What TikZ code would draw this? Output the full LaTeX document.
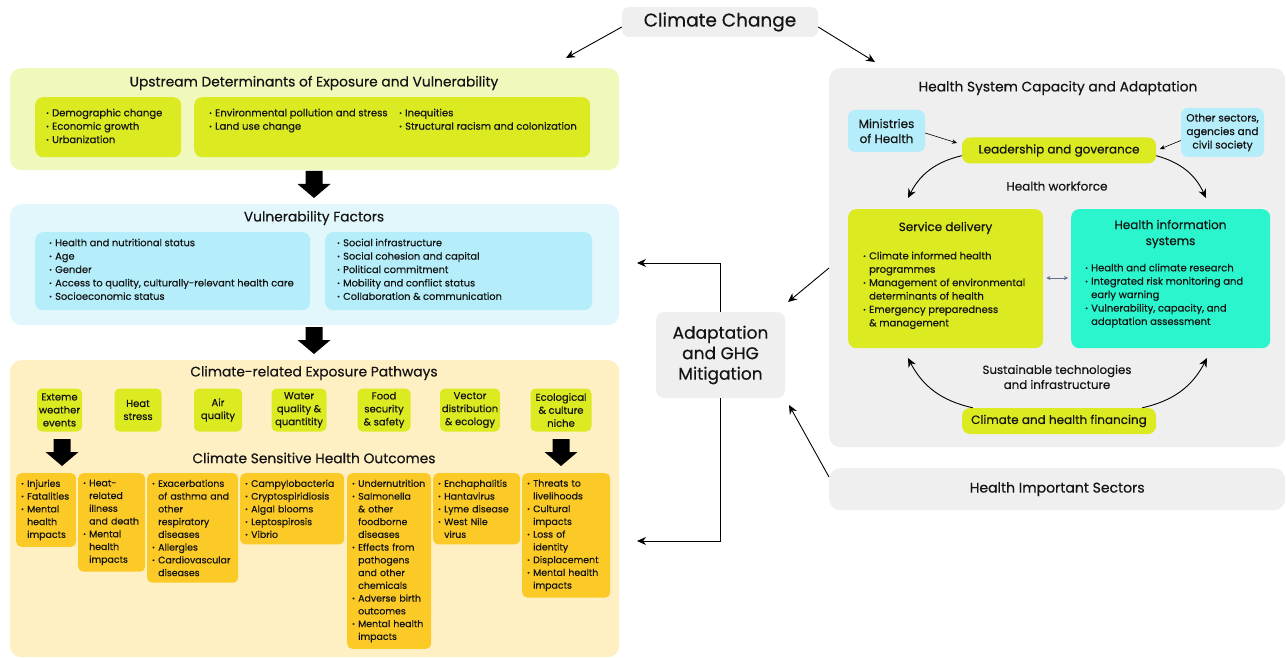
\documentclass[tikz,border=0pt]{standalone}
\usepackage{fontspec}
\setmainfont{Poppins}[FakeBold=0.4]
\usetikzlibrary{arrows.meta,positioning}

\definecolor{lime}{RGB}{220,234,34}
\definecolor{limebg}{RGB}{241,248,188}
\definecolor{cyanbg}{RGB}{226,247,252}
\definecolor{cyanbox}{RGB}{181,238,250}
\definecolor{sandbg}{RGB}{255,240,196}
\definecolor{amber}{RGB}{252,202,38}
\definecolor{greybg}{RGB}{239,239,239}
\definecolor{aqua}{RGB}{42,245,205}
\definecolor{ink}{RGB}{20,20,20}
\definecolor{slate}{RGB}{100,110,145}

\newcommand{\bu}{\makebox[6pt][l]{\raisebox{.1em}{\fontsize{6.5}{7}\selectfont\textbullet}}}
\newcommand{\nb}{\hspace*{6pt}}
\newcommand{\bodyfont}{\fontsize{10}{13.4}\selectfont}

\begin{document}
\begin{tikzpicture}[x=1pt,y=-1pt,font=\bodyfont,text=ink,
	panel/.style={rounded corners=11pt,inner sep=0,anchor=north west},
	card/.style={rounded corners=8pt,inner sep=0,anchor=north west},
	items/.style={inner sep=0,anchor=north west,align=left},
	pathbox/.style={fill=lime,rounded corners=5pt,minimum height=43,inner sep=1,align=center,font=\fontsize{10}{13}\selectfont},
	outcome/.style={fill=amber,rounded corners=5pt,anchor=north west,align=left,inner xsep=5,inner ysep=6.5,font=\fontsize{9.4}{12.75}\selectfont},
	head/.style={font=\fontsize{13.8}{16}\selectfont},
	pill/.style={fill=lime,rounded corners=8pt,minimum width=194,minimum height=26,font=\fontsize{12}{14}\selectfont},
	conn/.style={-{Stealth[length=9pt,width=8pt]},line width=0.9pt},
	fine/.style={-{Stealth[length=5pt,width=4.5pt]},line width=0.6pt},
	bigarrow/.pic={\fill (-8.5,0) -- (8.5,0) -- (8.5,13) -- (16.5,13) -- (0,27) -- (-16.5,13) -- (-8.5,13) -- cycle;}]
	\useasboundingbox (0,0) rectangle (1286,658);
	\node[fill=greybg,rounded corners=7pt,minimum width=196,minimum height=30,font=\fontsize{18.5}{20}\selectfont] (cc) at (720,22) {Climate Change};
	\node[panel,fill=limebg,minimum width=609,minimum height=102] (up) at (10,68) {};
	\node[head] (uptitle) at (314,83) {Upstream Determinants of Exposure and Vulnerability};
	\node[card,fill=lime,minimum width=146,minimum height=60] (dem) at (35,97) {};
	\node[items] (demtxt) at (46,108.5) {\bu Demographic change\\\bu Economic growth\\\bu Urbanization};
	\node[card,fill=lime,minimum width=396,minimum height=60] (env) at (194,97) {};
	\node[items] (envtxt) at (209,108.5) {\bu Environmental pollution and stress\\\bu Land use change};
	\node[items] (ineqtxt) at (399,108.5) {\bu Inequities\\\bu Structural racism and colonization};
	\pic at (314,171) {bigarrow};
	\node[panel,fill=cyanbg,minimum width=609,minimum height=121] (vf) at (10,204) {};
	\node[head] (vftitle) at (314,218) {Vulnerability Factors};
	\node[card,fill=cyanbox,minimum width=275,minimum height=78] (vfl) at (35,232) {};
	\node[items,font=\fontsize{9.85}{13.4}\selectfont] (vfltxt) at (49,238.5) {\bu Health and nutritional status\\\bu Age\\\bu Gender\\\bu Access to quality, culturally-relevant health care\\\bu Socioeconomic status};
	\node[card,fill=cyanbox,minimum width=267,minimum height=78] (vfr) at (325,232) {};
	\node[items,font=\fontsize{9.85}{13.4}\selectfont] (vfrtxt) at (337,238.5) {\bu Social infrastructure\\\bu Social cohesion and capital\\\bu Political commitment\\\bu Mobility and conflict status\\\bu Collaboration \& communication};
	\pic at (314,327) {bigarrow};
	\node[panel,fill=sandbg,minimum width=609,minimum height=297] (ex) at (10,360) {};
	\node[head] (extitle) at (314,373) {Climate-related Exposure Pathways};
	\node[pathbox,minimum width=45] (pw1) at (59.5,410) {Exteme\\weather\\events};
	\node[pathbox,minimum width=47] (pw2) at (138,410) {Heat\\stress};
	\node[pathbox,minimum width=48] (pw3) at (218,410) {Air\\quality};
	\node[pathbox,minimum width=55] (pw4) at (299,410) {Water\\quality \&\\quantitity};
	\node[pathbox,minimum width=53] (pw5) at (384,410) {Food\\security\\\& safety};
	\node[pathbox,minimum width=60] (pw6) at (470,410) {Vector\\distribution\\\& ecology};
	\node[pathbox,minimum width=61] (pw7) at (561,410) {Ecological\\\& culture\\niche};
	\pic at (62,439) {bigarrow};
	\pic at (561,439) {bigarrow};
	\node[head] (cshtitle) at (314,458) {Climate Sensitive Health Outcomes};
	\node[outcome,text width=50] (oc1) at (16,473) {\bu Injuries\\\bu Fatalities\\\bu Mental\\\nb health\\\nb impacts};
	\node[outcome,text width=57] (oc2) at (78,473) {\bu Heat-\\\nb related\\\nb illness\\\nb and death\\\bu Mental\\\nb health\\\nb impacts};
	\node[outcome,text width=81] (oc3) at (147,473) {\bu Exacerbations\\\nb of asthma and\\\nb other\\\nb respiratory\\\nb diseases\\\bu Allergies\\\bu Cardiovascular\\\nb diseases};
	\node[outcome,text width=94] (oc4) at (240,473) {\bu Campylobacteria\\\bu Cryptospiridiosis\\\bu Algal blooms\\\bu Leptospirosis\\\bu Vibrio};
	\node[outcome,text width=74] (oc5) at (347,473) {\bu Undernutrition\\\bu Salmonella\\\nb \& other\\\nb foodborne\\\nb diseases\\\bu Effects from\\\nb pathogens\\\nb and other\\\nb chemicals\\\bu Adverse birth\\\nb outcomes\\\bu Mental health\\\nb impacts};
	\node[outcome,text width=77] (oc6) at (433,473) {\bu Enchaphalitis\\\bu Hantavirus\\\bu Lyme disease\\\bu West Nile\\\nb virus};
	\node[outcome,text width=78] (oc7) at (522,473) {\bu Threats to\\\nb livelihoods\\\bu Cultural\\\nb impacts\\\bu Loss of\\\nb identity\\\bu Displacement\\\bu Mental health\\\nb impacts};
	\node[panel,fill=greybg,minimum width=456,minimum height=379] (hs) at (829,68) {};
	\node[head] (hstitle) at (1058,88) {Health System Capacity and Adaptation};
	\node[fill=cyanbox,rounded corners=7pt,minimum width=77,minimum height=42,align=center,font=\fontsize{12}{15}\selectfont] (moh) at (886.5,131) {Ministries\\of Health};
	\node[fill=cyanbox,rounded corners=7pt,minimum width=83,minimum height=49,align=center,font=\fontsize{10.5}{13.5}\selectfont] (oth) at (1222.5,132.5) {Other sectors,\\agencies and\\civil society};
	\node[pill] (lead) at (1059,150.5) {Leadership and goverance};
	\node[font=\fontsize{12}{14}\selectfont] (work) at (1057,186) {Health workforce};
	\node[card,fill=lime,minimum width=195,minimum height=139] (sd) at (848,209) {};
	\node[font=\fontsize{12}{14}\selectfont] (sdtitle) at (945.5,228) {Service delivery};
	\node[items] (sdtxt) at (863,251.5) {\bu Climate informed health\\\nb programmes\\\bu Management of environmental\\\nb determinants of health\\\bu Emergency preparedness\\\nb \& management};
	\node[card,fill=aqua,minimum width=199,minimum height=139] (his) at (1071,209) {};
	\node[align=center,font=\fontsize{12}{16}\selectfont] (histitle) at (1170.5,234) {Health information\\systems};
	\node[items] (histxt) at (1085,263.5) {\bu Health and climate research\\\bu Integrated risk monitoring and\\\nb early warning\\\bu Vulnerability, capacity, and\\\nb adaptation assessment};
	\node[align=center,font=\fontsize{11.8}{15}\selectfont] (sust) at (1057,377) {Sustainable technologies\\and infrastructure};
	\node[pill] (fin) at (1059,421) {Climate and health financing};
	\node[panel,fill=greybg,minimum width=456,minimum height=42,font=\fontsize{14}{16}\selectfont] (his2) at (829,468) {Health Important Sectors};
	\node[fill=greybg,rounded corners=8pt,minimum width=129,minimum height=86,align=center,font=\fontsize{17}{20.5}\selectfont] (adapt) at (720.5,355) {Adaptation\\and GHG\\Mitigation};
	\coordinate (upin) at (566,58);
	\coordinate (hsin) at (875,62);
	\coordinate (vfin) at (637,263);
	\coordinate (exin) at (637,541);
	\coordinate (hsout) at (829,268);
	\coordinate (adin) at (788,302);
	\coordinate (secout) at (829,477);
	\coordinate (adin2) at (789,405);
	\coordinate (leadl) at (957,143);
	\coordinate (leadr) at (1160,149);
	\coordinate (sdin) at (908,198);
	\coordinate (hisin) at (1206,198);
	\coordinate (sdup) at (908,358);
	\coordinate (hisup) at (1207,358);
	\draw[conn] ([yshift=-5pt]cc.west) -- (upin);
	\draw[conn] ([yshift=-5pt]cc.east) -- (hsin);
	\draw[conn] (adapt.north) |- (vfin);
	\draw[conn] (adapt.south) |- (exin);
	\draw[conn] (hsout) -- (adin);
	\draw[conn] (secout) -- (adin2);
	\draw[fine] ([yshift=-2pt]moh.east) -- (leadl);
	\draw[fine] ([yshift=-8pt]oth.west) -- (leadr);
	\draw[conn] ([yshift=8pt]lead.south west) to[bend right=25] (sdin);
	\draw[conn] ([yshift=8pt]lead.south east) to[bend left=25] (hisin);
	\draw[conn] ([xshift=11pt]fin.north west) to[bend left=25] (sdup);
	\draw[conn] ([xshift=-14pt]fin.north east) to[bend right=25] (hisup);
	\draw[{Stealth[length=4pt,width=4pt]}-{Stealth[length=4pt,width=4pt]},slate,line width=0.8pt] ([xshift=3pt]sd.east |- 0,278) -- ([xshift=-3pt]his.west |- 0,278);
\end{tikzpicture}
\end{document}
